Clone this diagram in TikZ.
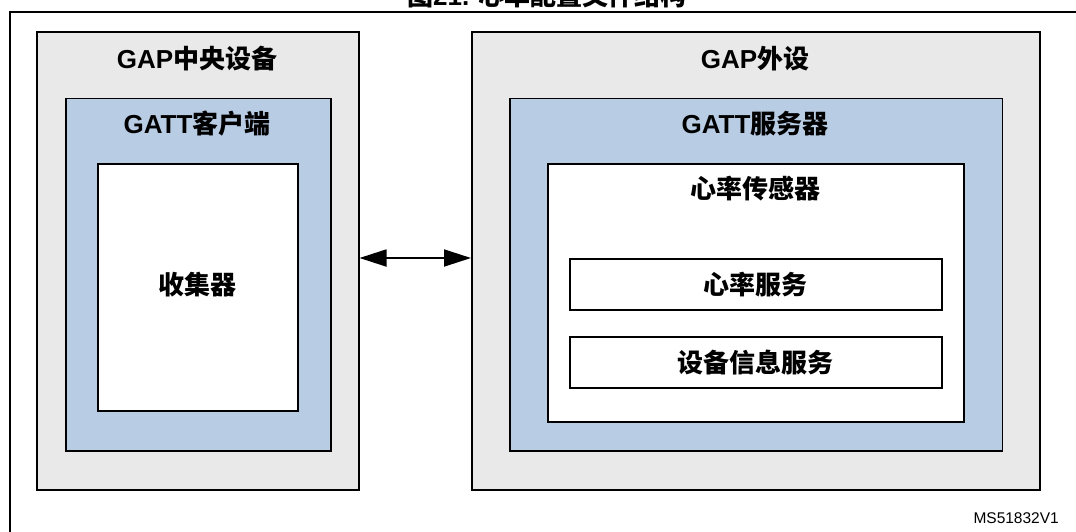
\documentclass[tikz,border=0pt]{standalone}
\usepackage{fontspec}
\setmainfont{Liberation Sans}
\newfontfamily\cjk{Noto Sans CJK SC}
\usetikzlibrary{arrows.meta}
\definecolor{shellgray}{RGB}{233,233,233}
\definecolor{gattblue}{RGB}{184,204,228}
\newcommand{\zh}[1]{{\cjk #1}}

\begin{document}
\begin{tikzpicture}[x=1pt,y=-1pt,
  frame/.style={line width=2pt},
  gapbox/.style={draw=black, fill=shellgray, line width=1.5pt, inner sep=0pt, anchor=north west},
  gattbox/.style={draw=black, fill=gattblue, line width=1.5pt, inner sep=0pt, anchor=north west},
  innerbox/.style={draw=black, fill=white, line width=1.5pt, inner sep=0pt, anchor=north west},
  lbl/.style={font=\bfseries\fontsize{26}{30}\selectfont, inner sep=0pt},
  link/.style={line width=1.8pt, {Triangle[length=27pt,width=17pt]}-{Triangle[length=27pt,width=17pt]}},
]
\useasboundingbox (0,0) rectangle (1076,531);
\fill[white] (0,0) rectangle (1076,531);

% figure caption and frame
\node[font=\bfseries\fontsize{26}{30}\selectfont, anchor=base, inner sep=0pt] (caption) at (547,5.5) {\zh{图}21. \zh{心率配置文件结构}};
\draw[frame] (9.6,560) |- (1100,12.4);

% central device side
\node[gapbox, minimum width=322pt, minimum height=458pt] (central) at (36,31) {};
\node[gattbox, minimum width=265pt, minimum height=352.5pt] (client) at (65,97.5) {};
\node[innerbox, minimum width=200pt, minimum height=247pt] (collector) at (97,163) {};
\node[lbl] (centralLbl) at (197,59) {GAP\zh{中央设备}};
\node[lbl] (clientLbl) at (197,124) {GATT\zh{客户端}};
\node[lbl] (collectorLbl) at (197,285) {\zh{收集器}};

% peripheral side
\node[gapbox, minimum width=568pt, minimum height=458pt] (peripheral) at (471,31) {};
\node[gattbox, minimum width=492.5pt, minimum height=352.5pt] (server) at (509,97.5) {};
\node[innerbox, minimum width=416pt, minimum height=258pt] (sensor) at (547,163) {};
\node[innerbox, minimum width=372pt, minimum height=51pt] (hrs) at (569,258) {};
\node[innerbox, minimum width=372pt, minimum height=51pt] (dis) at (569,336) {};
\node[lbl] (peripheralLbl) at (755,59) {GAP\zh{外设}};
\node[lbl] (serverLbl) at (755,124) {GATT\zh{服务器}};
\node[lbl] (sensorLbl) at (755,189) {\zh{心率传感器}};
\node[lbl] (hrsLbl) at (hrs.center) {\zh{心率服务}};
\node[lbl] (disLbl) at (dis.center) {\zh{设备信息服务}};

% link between the two devices
\coordinate (linkLevel) at (0,258);
\draw[link] (central.east |- linkLevel) -- (peripheral.west |- linkLevel);

% drawing reference
\node[font=\fontsize{15.5}{18}\selectfont, anchor=base east, inner sep=0pt] (ref) at (1059,523) {MS51832V1};
\end{tikzpicture}
\end{document}
